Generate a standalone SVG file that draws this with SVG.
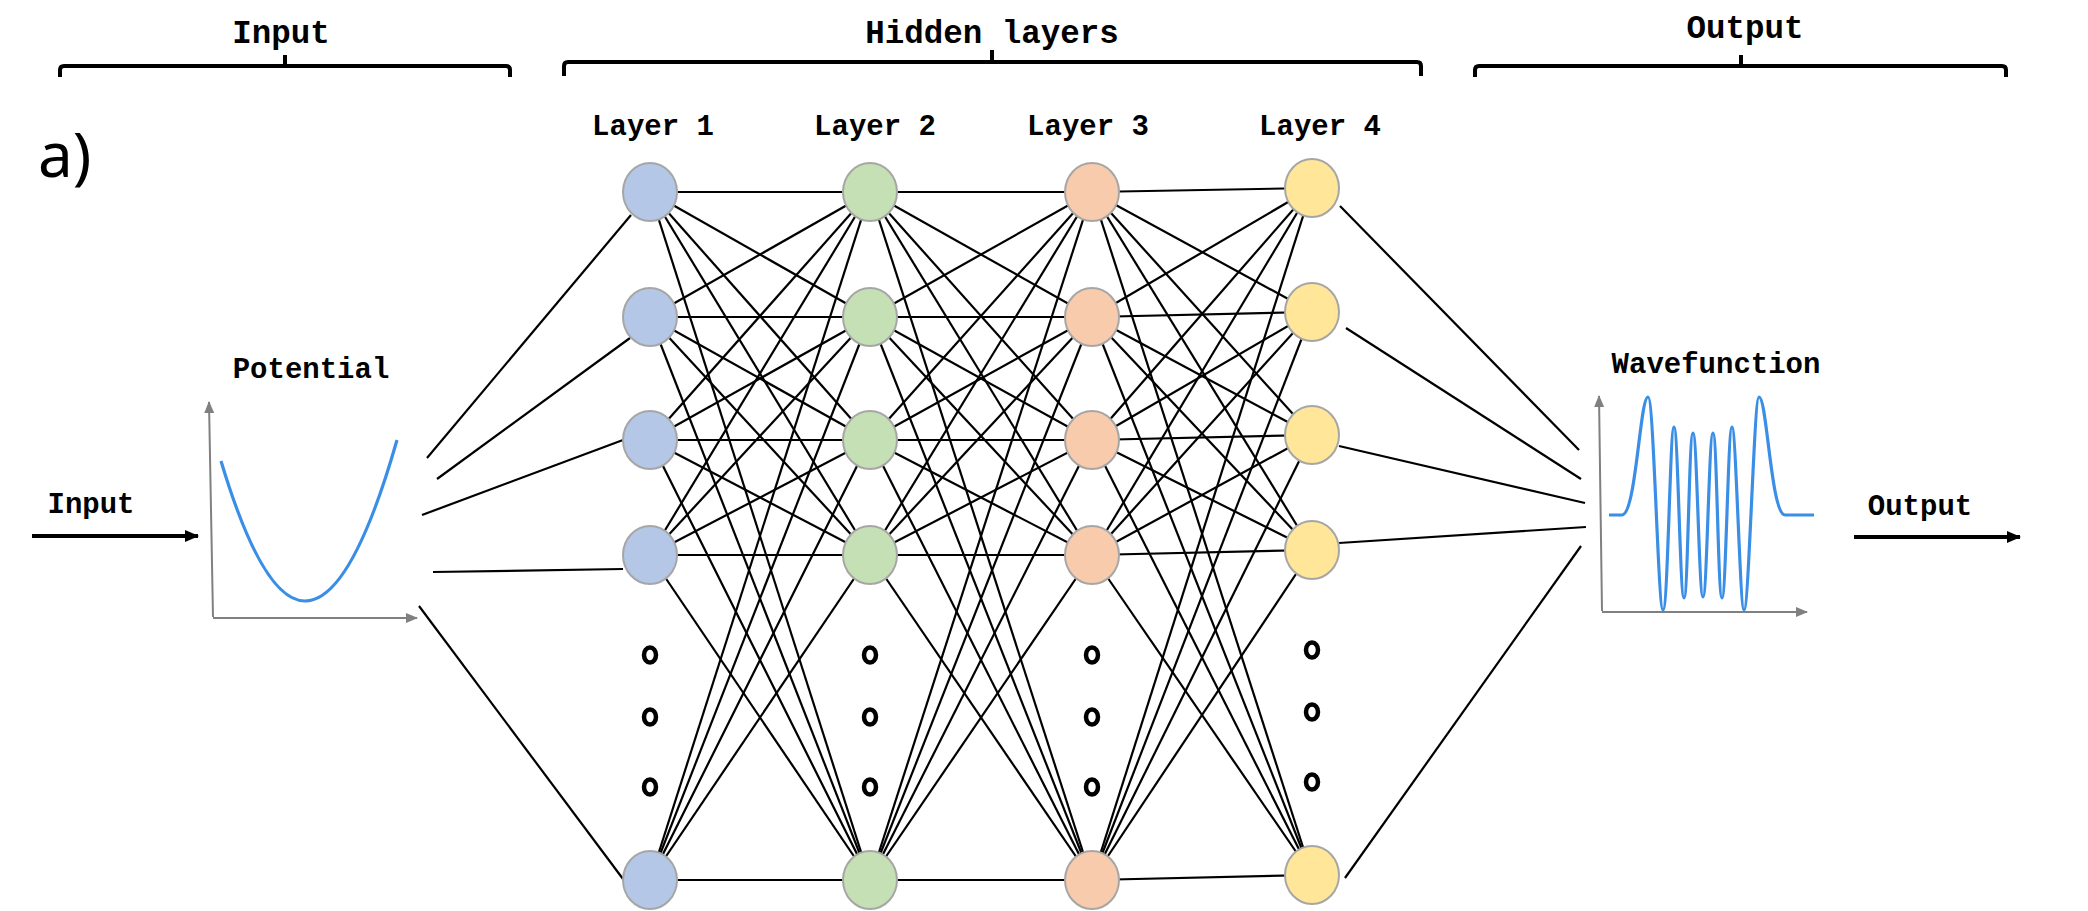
<svg xmlns="http://www.w3.org/2000/svg" width="2088" height="911" viewBox="0 0 2088 911">
<style>
.t{font-family:"Liberation Mono","Courier New",monospace;font-weight:bold;fill:#000;text-anchor:middle}
.h{font-size:32.5px}
.s{font-size:29px}
.br{fill:none;stroke:#000;stroke-width:4;stroke-linecap:butt;stroke-linejoin:round}
.c line{stroke:#000;stroke-width:2.2}
.ax{stroke:#808080;stroke-width:2;fill:none}
.cv{stroke:#3a8ee6;stroke-width:3.2;fill:none;stroke-linejoin:round}
.b ellipse{fill:#b4c7e7;stroke:#a6a6a6;stroke-width:2}
.g ellipse{fill:#c5e0b4;stroke:#a6a6a6;stroke-width:2}
.o ellipse{fill:#f8cbad;stroke:#a6a6a6;stroke-width:2}
.y ellipse{fill:#ffe699;stroke:#a6a6a6;stroke-width:2}
.d ellipse{fill:none;stroke:#000;stroke-width:4.5}
</style>
<defs>
<marker id="ah" markerUnits="userSpaceOnUse" markerWidth="14" markerHeight="14" refX="13" refY="7" orient="auto"><path d="M0,1 L14,7 L0,13 Z" fill="#000"/></marker>
<marker id="ga" markerUnits="userSpaceOnUse" markerWidth="12" markerHeight="12" refX="11" refY="6" orient="auto"><path d="M0,1 L12,6 L0,11 Z" fill="#808080"/></marker>
</defs>
<rect width="2088" height="911" fill="#fff"/>

<g id="headers">
<text class="t h" x="281" y="43">Input</text>
<path class="br" d="M60,77 V70 Q60,66 64,66 H506 Q510,66 510,70 V77 M285,66 V55"/>
<text class="t h" x="992" y="43">Hidden layers</text>
<path class="br" d="M564,76 V66 Q564,62 568,62 H1417 Q1421,62 1421,66 V76 M992,62 V50"/>
<text class="t h" x="1745" y="38">Output</text>
<path class="br" d="M1475,77 V70 Q1475,66 1479,66 H2002 Q2006,66 2006,70 V77 M1741,66 V55"/>
<text x="38" y="177" font-family="'Noto Sans','DejaVu Sans',sans-serif" font-size="62" fill="#000">a)</text>
</g>

<g id="layer-labels">
<text class="t s" x="653" y="135">Layer 1</text>
<text class="t s" x="875" y="135">Layer 2</text>
<text class="t s" x="1088" y="135">Layer 3</text>
<text class="t s" x="1320" y="135">Layer 4</text>
</g>

<g id="input">
<text class="t s" x="91" y="513">Input</text>
<line x1="32" y1="536" x2="198" y2="536" stroke="#000" stroke-width="4" marker-end="url(#ah)"/>
</g>

<g id="potential-plot">
<text class="t s" x="311" y="378">Potential</text>
<path class="ax" d="M213,617 L209,402" marker-end="url(#ga)"/>
<path class="ax" d="M213,618 L417,618" marker-end="url(#ga)"/>
<path class="cv" d="M221,461 Q263,601 305,601 Q351,601 397,440"/>
</g>

<g id="wavefunction-plot">
<text class="t s" x="1716" y="373">Wavefunction</text>
<path class="ax" d="M1602,611 L1599,396" marker-end="url(#ga)"/>
<path class="ax" d="M1602,612 L1807,612" marker-end="url(#ga)"/>
<path class="cv" d="M1609,515 L1622,515 C1636,515 1640,397 1648,397 C1654,397 1658,610 1663,610 C1668,610 1670,427 1674,427 C1678,427 1680,598 1684,598 C1688,598 1689,433 1693,433 C1697,433 1699,597 1703,597 C1707,597 1709,433 1713,433 C1717,433 1718,598 1722,598 C1726,598 1728,427 1732,427 C1736,427 1740,610 1744,610 C1749,610 1754,397 1759,397 C1767,397 1771,515 1785,515 L1814,515"/>
</g>

<g id="output">
<text class="t s" x="1920" y="515">Output</text>
<line x1="1854" y1="537" x2="2020" y2="537" stroke="#000" stroke-width="4" marker-end="url(#ah)"/>
</g>

<g id="connectors" class="c">
<line x1="427" y1="458" x2="631" y2="215"/>
<line x1="437" y1="479" x2="630" y2="338"/>
<line x1="422" y1="515" x2="623" y2="440"/>
<line x1="433" y1="572" x2="623" y2="569"/>
<line x1="419" y1="606" x2="623" y2="879"/>

<line x1="650" y1="192" x2="870" y2="192"/><line x1="650" y1="192" x2="870" y2="317"/><line x1="650" y1="192" x2="870" y2="440"/><line x1="650" y1="192" x2="870" y2="555"/><line x1="650" y1="192" x2="870" y2="880"/>
<line x1="650" y1="317" x2="870" y2="192"/><line x1="650" y1="317" x2="870" y2="317"/><line x1="650" y1="317" x2="870" y2="440"/><line x1="650" y1="317" x2="870" y2="555"/><line x1="650" y1="317" x2="870" y2="880"/>
<line x1="650" y1="440" x2="870" y2="192"/><line x1="650" y1="440" x2="870" y2="317"/><line x1="650" y1="440" x2="870" y2="440"/><line x1="650" y1="440" x2="870" y2="555"/><line x1="650" y1="440" x2="870" y2="880"/>
<line x1="650" y1="555" x2="870" y2="192"/><line x1="650" y1="555" x2="870" y2="317"/><line x1="650" y1="555" x2="870" y2="440"/><line x1="650" y1="555" x2="870" y2="555"/><line x1="650" y1="555" x2="870" y2="880"/>
<line x1="650" y1="880" x2="870" y2="192"/><line x1="650" y1="880" x2="870" y2="317"/><line x1="650" y1="880" x2="870" y2="440"/><line x1="650" y1="880" x2="870" y2="555"/><line x1="650" y1="880" x2="870" y2="880"/>

<line x1="870" y1="192" x2="1092" y2="192"/><line x1="870" y1="192" x2="1092" y2="317"/><line x1="870" y1="192" x2="1092" y2="440"/><line x1="870" y1="192" x2="1092" y2="555"/><line x1="870" y1="192" x2="1092" y2="880"/>
<line x1="870" y1="317" x2="1092" y2="192"/><line x1="870" y1="317" x2="1092" y2="317"/><line x1="870" y1="317" x2="1092" y2="440"/><line x1="870" y1="317" x2="1092" y2="555"/><line x1="870" y1="317" x2="1092" y2="880"/>
<line x1="870" y1="440" x2="1092" y2="192"/><line x1="870" y1="440" x2="1092" y2="317"/><line x1="870" y1="440" x2="1092" y2="440"/><line x1="870" y1="440" x2="1092" y2="555"/><line x1="870" y1="440" x2="1092" y2="880"/>
<line x1="870" y1="555" x2="1092" y2="192"/><line x1="870" y1="555" x2="1092" y2="317"/><line x1="870" y1="555" x2="1092" y2="440"/><line x1="870" y1="555" x2="1092" y2="555"/><line x1="870" y1="555" x2="1092" y2="880"/>
<line x1="870" y1="880" x2="1092" y2="192"/><line x1="870" y1="880" x2="1092" y2="317"/><line x1="870" y1="880" x2="1092" y2="440"/><line x1="870" y1="880" x2="1092" y2="555"/><line x1="870" y1="880" x2="1092" y2="880"/>

<line x1="1092" y1="192" x2="1312" y2="188"/><line x1="1092" y1="192" x2="1312" y2="312"/><line x1="1092" y1="192" x2="1312" y2="435"/><line x1="1092" y1="192" x2="1312" y2="550"/><line x1="1092" y1="192" x2="1312" y2="875"/>
<line x1="1092" y1="317" x2="1312" y2="188"/><line x1="1092" y1="317" x2="1312" y2="312"/><line x1="1092" y1="317" x2="1312" y2="435"/><line x1="1092" y1="317" x2="1312" y2="550"/><line x1="1092" y1="317" x2="1312" y2="875"/>
<line x1="1092" y1="440" x2="1312" y2="188"/><line x1="1092" y1="440" x2="1312" y2="312"/><line x1="1092" y1="440" x2="1312" y2="435"/><line x1="1092" y1="440" x2="1312" y2="550"/><line x1="1092" y1="440" x2="1312" y2="875"/>
<line x1="1092" y1="555" x2="1312" y2="188"/><line x1="1092" y1="555" x2="1312" y2="312"/><line x1="1092" y1="555" x2="1312" y2="435"/><line x1="1092" y1="555" x2="1312" y2="550"/><line x1="1092" y1="555" x2="1312" y2="875"/>
<line x1="1092" y1="880" x2="1312" y2="188"/><line x1="1092" y1="880" x2="1312" y2="312"/><line x1="1092" y1="880" x2="1312" y2="435"/><line x1="1092" y1="880" x2="1312" y2="550"/><line x1="1092" y1="880" x2="1312" y2="875"/>

<line x1="1340" y1="206" x2="1579" y2="450"/>
<line x1="1346" y1="328" x2="1581" y2="479"/>
<line x1="1339" y1="446" x2="1585" y2="503"/>
<line x1="1339" y1="543" x2="1586" y2="527"/>
<line x1="1345" y1="878" x2="1581" y2="546"/>
</g>

<g id="layer1" class="b">
<ellipse id="l1n1" cx="650" cy="192" rx="27" ry="29"/>
<ellipse id="l1n2" cx="650" cy="317" rx="27" ry="29"/>
<ellipse id="l1n3" cx="650" cy="440" rx="27" ry="29"/>
<ellipse id="l1n4" cx="650" cy="555" rx="27" ry="29"/>
<ellipse id="l1n5" cx="650" cy="880" rx="27" ry="29"/>
</g>
<g id="layer2" class="g">
<ellipse id="l2n1" cx="870" cy="192" rx="27" ry="29"/>
<ellipse id="l2n2" cx="870" cy="317" rx="27" ry="29"/>
<ellipse id="l2n3" cx="870" cy="440" rx="27" ry="29"/>
<ellipse id="l2n4" cx="870" cy="555" rx="27" ry="29"/>
<ellipse id="l2n5" cx="870" cy="880" rx="27" ry="29"/>
</g>
<g id="layer3" class="o">
<ellipse id="l3n1" cx="1092" cy="192" rx="27" ry="29"/>
<ellipse id="l3n2" cx="1092" cy="317" rx="27" ry="29"/>
<ellipse id="l3n3" cx="1092" cy="440" rx="27" ry="29"/>
<ellipse id="l3n4" cx="1092" cy="555" rx="27" ry="29"/>
<ellipse id="l3n5" cx="1092" cy="880" rx="27" ry="29"/>
</g>
<g id="layer4" class="y">
<ellipse id="l4n1" cx="1312" cy="188" rx="27" ry="29"/>
<ellipse id="l4n2" cx="1312" cy="312" rx="27" ry="29"/>
<ellipse id="l4n3" cx="1312" cy="435" rx="27" ry="29"/>
<ellipse id="l4n4" cx="1312" cy="550" rx="27" ry="29"/>
<ellipse id="l4n5" cx="1312" cy="875" rx="27" ry="29"/>
</g>

<g id="ellipsis-dots" class="d">
<ellipse cx="650" cy="655" rx="6" ry="7.5"/><ellipse cx="650" cy="717" rx="6" ry="7.5"/><ellipse cx="650" cy="787" rx="6" ry="7.5"/>
<ellipse cx="870" cy="655" rx="6" ry="7.5"/><ellipse cx="870" cy="717" rx="6" ry="7.5"/><ellipse cx="870" cy="787" rx="6" ry="7.5"/>
<ellipse cx="1092" cy="655" rx="6" ry="7.5"/><ellipse cx="1092" cy="717" rx="6" ry="7.5"/><ellipse cx="1092" cy="787" rx="6" ry="7.5"/>
<ellipse cx="1312" cy="650" rx="6" ry="7.5"/><ellipse cx="1312" cy="712" rx="6" ry="7.5"/><ellipse cx="1312" cy="782" rx="6" ry="7.5"/>
</g>
</svg>
